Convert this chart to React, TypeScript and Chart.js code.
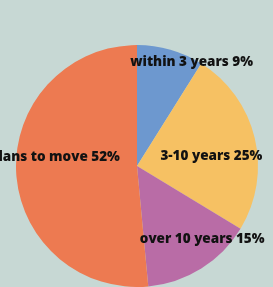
import React, { useEffect, useRef } from "react";
import { Chart, registerables } from "chart.js";

Chart.register(...registerables);

const categories = ["within 3 years", "3-10 years", "over 10 years", "no plans to move"];
const shares = [9, 25, 15, 52];
const colors = ["#6d98cf", "#f6c163", "#b96ca6", "#ed7a51"];
// label placement relative to each arc: fraction of radius and angle shift (degrees)
const labelRadius = [0.97, 0.62, 0.81, 0.77];
const labelShift = [11.7, 5.9, -9.6, 8.3];

const labelPlugin = {
  id: "sliceLabels",
  afterDatasetsDraw(chart: any) {
    const ctx = chart.ctx;
    const meta = chart.getDatasetMeta(0);
    ctx.save();
    ctx.font = "800 13.5px 'Open Sans'";
    ctx.fillStyle = "#121212";
    ctx.textAlign = "center";
    ctx.textBaseline = "middle";
    meta.data.forEach((arc: any, i: number) => {
      const { x, y, startAngle, endAngle, outerRadius } = arc.getProps(
        ["x", "y", "startAngle", "endAngle", "outerRadius"],
        true
      );
      const mid = (startAngle + endAngle) / 2 + (labelShift[i] * Math.PI) / 180;
      const r = outerRadius * labelRadius[i];
      const text = `${categories[i]} ${shares[i]}%`;
      ctx.fillText(text, x + Math.cos(mid) * r, y + Math.sin(mid) * r);
    });
    ctx.restore();
  },
};

export default function App() {
  const ref = useRef<HTMLCanvasElement>(null);
  useEffect(() => {
    document.body.style.margin = "0";
    const chart = new Chart(ref.current!, {
      type: "pie",
      data: {
        labels: categories,
        datasets: [
          {
            data: shares,
            backgroundColor: colors,
            borderWidth: 0,
          },
        ],
      },
      options: {
        animation: false,
        responsive: false,
        layout: { padding: { top: 45, bottom: 0, left: 16, right: 15 } },
        plugins: { legend: { display: false }, tooltip: { enabled: false } },
      },
      plugins: [labelPlugin],
    });
    return () => chart.destroy();
  }, []);
  return (
    <div style={{ width: 273, height: 287, background: "#c7d8d4" }}>
      <canvas ref={ref} width={273} height={287} style={{ display: "block" }} />
    </div>
  );
}
